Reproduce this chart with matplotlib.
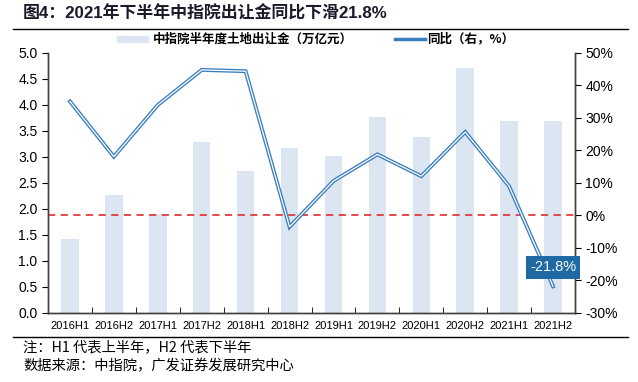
import numpy as np
import matplotlib
matplotlib.use("Agg")
import matplotlib.pyplot as plt

plt.rcParams["font.family"] = ["Liberation Sans", "Noto Sans CJK SC", "DejaVu Sans"]

# -------------------------------------------------
# Data
# -------------------------------------------------

periods = ["2016H1", "2016H2", "2017H1", "2017H2", "2018H1", "2018H2",
           "2019H1", "2019H2", "2020H1", "2020H2", "2021H1", "2021H2"]

land_revenue = [1.42, 2.27, 1.90, 3.28, 2.74, 3.17,
                3.02, 3.76, 3.38, 4.72, 3.69, 3.70]

yoy_pct = [35.1, 18.1, 34.0, 44.8, 44.4, -3.5,
           10.6, 18.8, 12.1, 25.7, 9.0, -21.8]

title_text = "图4：2021年下半年中指院出让金同比下滑21.8%"
bar_label = "中指院半年度土地出让金（万亿元）"
line_label = "同比（右，%）"
note_lines = ["注：H1 代表上半年，H2 代表下半年",
              "数据来源：中指院，广发证券发展研究中心"]

cjk = ["Noto Sans CJK SC", "Liberation Sans"]
bar_color = "#dce6f2"
line_color = "#3a7dbf"


def fx(px):
    return px / 638


def fy(px):
    return 1 - px / 382


# -------------------------------------------------
# Figure
# -------------------------------------------------

fig = plt.figure(figsize=(6.38, 3.82), dpi=100)
ax = fig.add_axes([fx(48), fy(313), 527 / 638, 260 / 382])
ax2 = ax.twinx()

x = np.arange(len(periods))

ax.bar(x, land_revenue, width=0.4, color=bar_color, zorder=1)

ax.set_xlim(-0.5, len(periods) - 0.5)
ax.set_ylim(0, 5)
left_ticks = np.arange(0, 5.01, 0.5)
ax.set_yticks(left_ticks)
ax.set_yticklabels([f"{v:.1f}" for v in left_ticks], fontsize=10)
ax.set_xticks(x)
ax.set_xticklabels(periods, fontsize=8)
ax.set_xticks(np.arange(-0.5, len(periods), 1), minor=True)
ax.tick_params(axis="x", which="major", length=0, pad=6)
ax.tick_params(axis="x", which="minor", length=4, direction="in")
ax.tick_params(axis="y", length=4, direction="out")

ax2.set_ylim(-30, 50)
ax2.set_yticks(np.arange(-30, 51, 10))
ax2.set_yticklabels([f"{v}%" for v in range(-30, 51, 10)], fontsize=10)
ax2.tick_params(axis="y", length=4, direction="out")

# double line: blue outline with white core
ax2.plot(x, yoy_pct, color=line_color, linewidth=2.8, zorder=3,
         solid_joinstyle="miter")
ax2.plot(x, yoy_pct, color="white", linewidth=0.9, zorder=4,
         solid_joinstyle="miter")
ax2.axhline(0, color="#e03c3c", linestyle=(0, (4, 3)), linewidth=1.3, zorder=2)

ax2.annotate(f"{yoy_pct[-1]}%", xy=(x[-1], -16), ha="center", va="center",
             color="white", fontsize=10.5, zorder=6,
             bbox=dict(boxstyle="square,pad=0.3", facecolor="#1f6aa5",
                       edgecolor="none"))

for a in (ax, ax2):
    a.spines["top"].set_visible(False)
    for s in ("left", "right", "bottom"):
        a.spines[s].set_color("#404040")
        a.spines[s].set_linewidth(1.0)

# -------------------------------------------------
# Legend (drawn by hand in figure coords)
# -------------------------------------------------

fig.patches.append(plt.Rectangle((fx(117), fy(42)), 31 / 638, 6 / 382,
                                 transform=fig.transFigure, color=bar_color))
fig.text(fx(153), fy(39), bar_label, fontsize=9, fontweight="bold",
         family=cjk, va="center")
fig.lines.append(plt.Line2D([fx(395), fx(425)], [fy(39)] * 2,
                            transform=fig.transFigure, color=line_color,
                            linewidth=2.5))
fig.text(fx(427), fy(39), line_label, fontsize=9, fontweight="bold",
         family=cjk, va="center")

# -------------------------------------------------
# Title, separators and notes
# -------------------------------------------------

fig.text(fx(23), fy(13), title_text, fontsize=12.2, fontweight="bold",
         color="#1a1a2a", family=["Liberation Sans", "Noto Sans CJK SC"],
         va="center")
fig.lines.append(plt.Line2D([fx(13), fx(628)], [fy(29)] * 2,
                            transform=fig.transFigure, color="black",
                            linewidth=1.0))
fig.lines.append(plt.Line2D([fx(13), fx(628)], [fy(337)] * 2,
                            transform=fig.transFigure, color="black",
                            linewidth=1.0))
fig.text(fx(23), fy(347), note_lines[0], fontsize=10.3,
         family=cjk, va="center")
fig.text(fx(23), fy(366), note_lines[1], fontsize=10.3,
         family=cjk, va="center")

plt.savefig("out.png", dpi=100)
